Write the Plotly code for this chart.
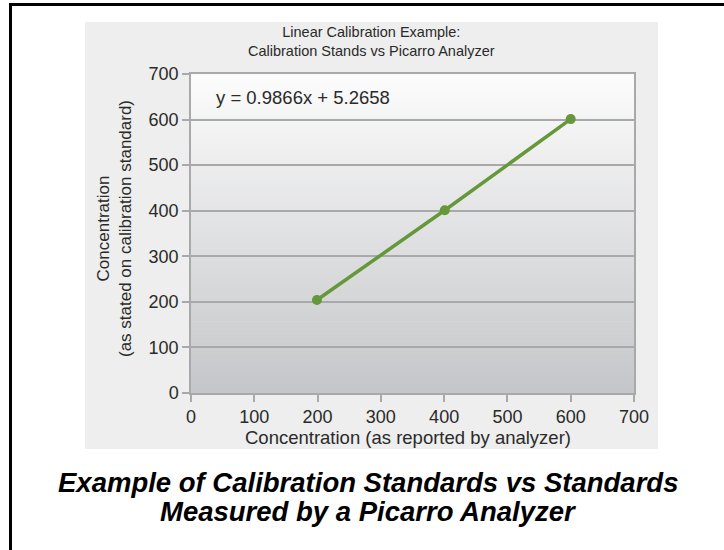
import plotly.graph_objects as go

# ---- data ----
analyzer_conc = [199, 401, 600]
standard_conc = [204, 401, 601]
x_ticks = [0, 100, 200, 300, 400, 500, 600, 700]
y_ticks = [0, 100, 200, 300, 400, 500, 600, 700]
equation = "y = 0.9866x + 5.2658"
chart_title = "Linear Calibration Example:<br>Calibration Stands vs Picarro Analyzer"
x_title = "Concentration (as reported by analyzer)"
y_title = "Concentration<br>(as stated on calibration standard)"
caption_lines = ["Example of Calibration Standards vs Standards",
                 "Measured by a Picarro Analyzer"]

W, H = 724, 550
ML, MR, MT, MB = 191, 90, 74, 157
PW, PH = W - ML - MR, H - MT - MB

def px(x):
    return (x - ML) / PW

def py(y):
    return (H - MB - y) / PH

FONT = "Liberation Sans, Arial, sans-serif"
TXT = "#2a2a2a"
GRID = "#a9a9ab"

shapes = []
# outer black frame
shapes.append(dict(type="rect", xref="paper", yref="paper", layer="below",
                   x0=px(10.5), x1=px(W + 5), y0=py(H + 5), y1=py(4.5),
                   line=dict(color="black", width=3), fillcolor="white"))
# grey chart panel
shapes.append(dict(type="rect", xref="paper", yref="paper", layer="below",
                   x0=px(85), x1=px(658), y0=py(449), y1=py(22),
                   line=dict(width=0), fillcolor="#edeeed"))
# vertical gradient in plot area
N = 80
top = (252, 252, 252)
bot = (197, 198, 201)
for i in range(N):
    t = (i + 0.5) / N
    c = tuple(int(round(top[k] + (bot[k] - top[k]) * t)) for k in range(3))
    shapes.append(dict(type="rect", xref="paper", yref="paper", layer="below",
                       x0=0, x1=1, y0=1 - (i + 1) / N - 0.002, y1=1 - i / N,
                       line=dict(width=0), fillcolor="rgb(%d,%d,%d)" % c))

fig = go.Figure()
fig.add_trace(go.Scatter(
    x=analyzer_conc, y=standard_conc, mode="lines+markers",
    line=dict(color="#64983a", width=3.5),
    marker=dict(color="#64983a", size=10),
    showlegend=False, hoverinfo="skip"))

annotations = [
    dict(text=chart_title, xref="paper", yref="paper", x=px(371.5), y=py(41),
         showarrow=False, font=dict(family=FONT, size=14.5, color=TXT),
         xanchor="center", yanchor="middle"),
    dict(text=equation, xref="paper", yref="paper", x=px(214), y=py(97),
         showarrow=False, font=dict(family=FONT, size=18.5, color=TXT),
         xanchor="left", yanchor="middle"),
    dict(text=x_title, xref="paper", yref="paper", x=px(408), y=py(437),
         showarrow=False, font=dict(family=FONT, size=18.5, color=TXT),
         xanchor="center", yanchor="middle"),
    dict(text=y_title, xref="paper", yref="paper", x=px(114), y=py(229),
         showarrow=False, textangle=-90, font=dict(family=FONT, size=17, color=TXT),
         xanchor="center", yanchor="middle"),
]
for i, line in enumerate(caption_lines):
    annotations.append(dict(text="<b><i>%s</i></b>" % line, xref="paper", yref="paper",
                            x=px(368), y=py(482 + 29 * i), showarrow=False,
                            font=dict(family=FONT, size=27.5, color="black"),
                            xanchor="center", yanchor="middle"))

fig.update_layout(
    width=W, height=H,
    margin=dict(l=ML, r=MR, t=MT, b=MB, pad=0),
    paper_bgcolor="white", plot_bgcolor="rgba(0,0,0,0)",
    shapes=shapes, annotations=annotations,
    font=dict(family=FONT, color=TXT, size=18),
    xaxis=dict(range=[0, 700], tickvals=x_ticks, ticks="outside", ticklen=7,
               tickcolor=GRID, tickwidth=1.5, showgrid=False, zeroline=False,
               showline=True, linecolor=GRID, linewidth=1.5, mirror=True,
               tickfont=dict(size=18, color=TXT, family=FONT), fixedrange=True),
    yaxis=dict(range=[0, 700], tickvals=y_ticks, ticks="outside", ticklen=7,
               tickcolor=GRID, tickwidth=1.5, showgrid=True, gridcolor=GRID,
               gridwidth=1.5, zeroline=False, showline=True, linecolor=GRID,
               linewidth=1.5, mirror=True,
               tickfont=dict(size=18, color=TXT, family=FONT), fixedrange=True),
)

fig.write_html("out.html", config={"displayModeBar": False},
               post_script="document.body.style.margin='0px';")
